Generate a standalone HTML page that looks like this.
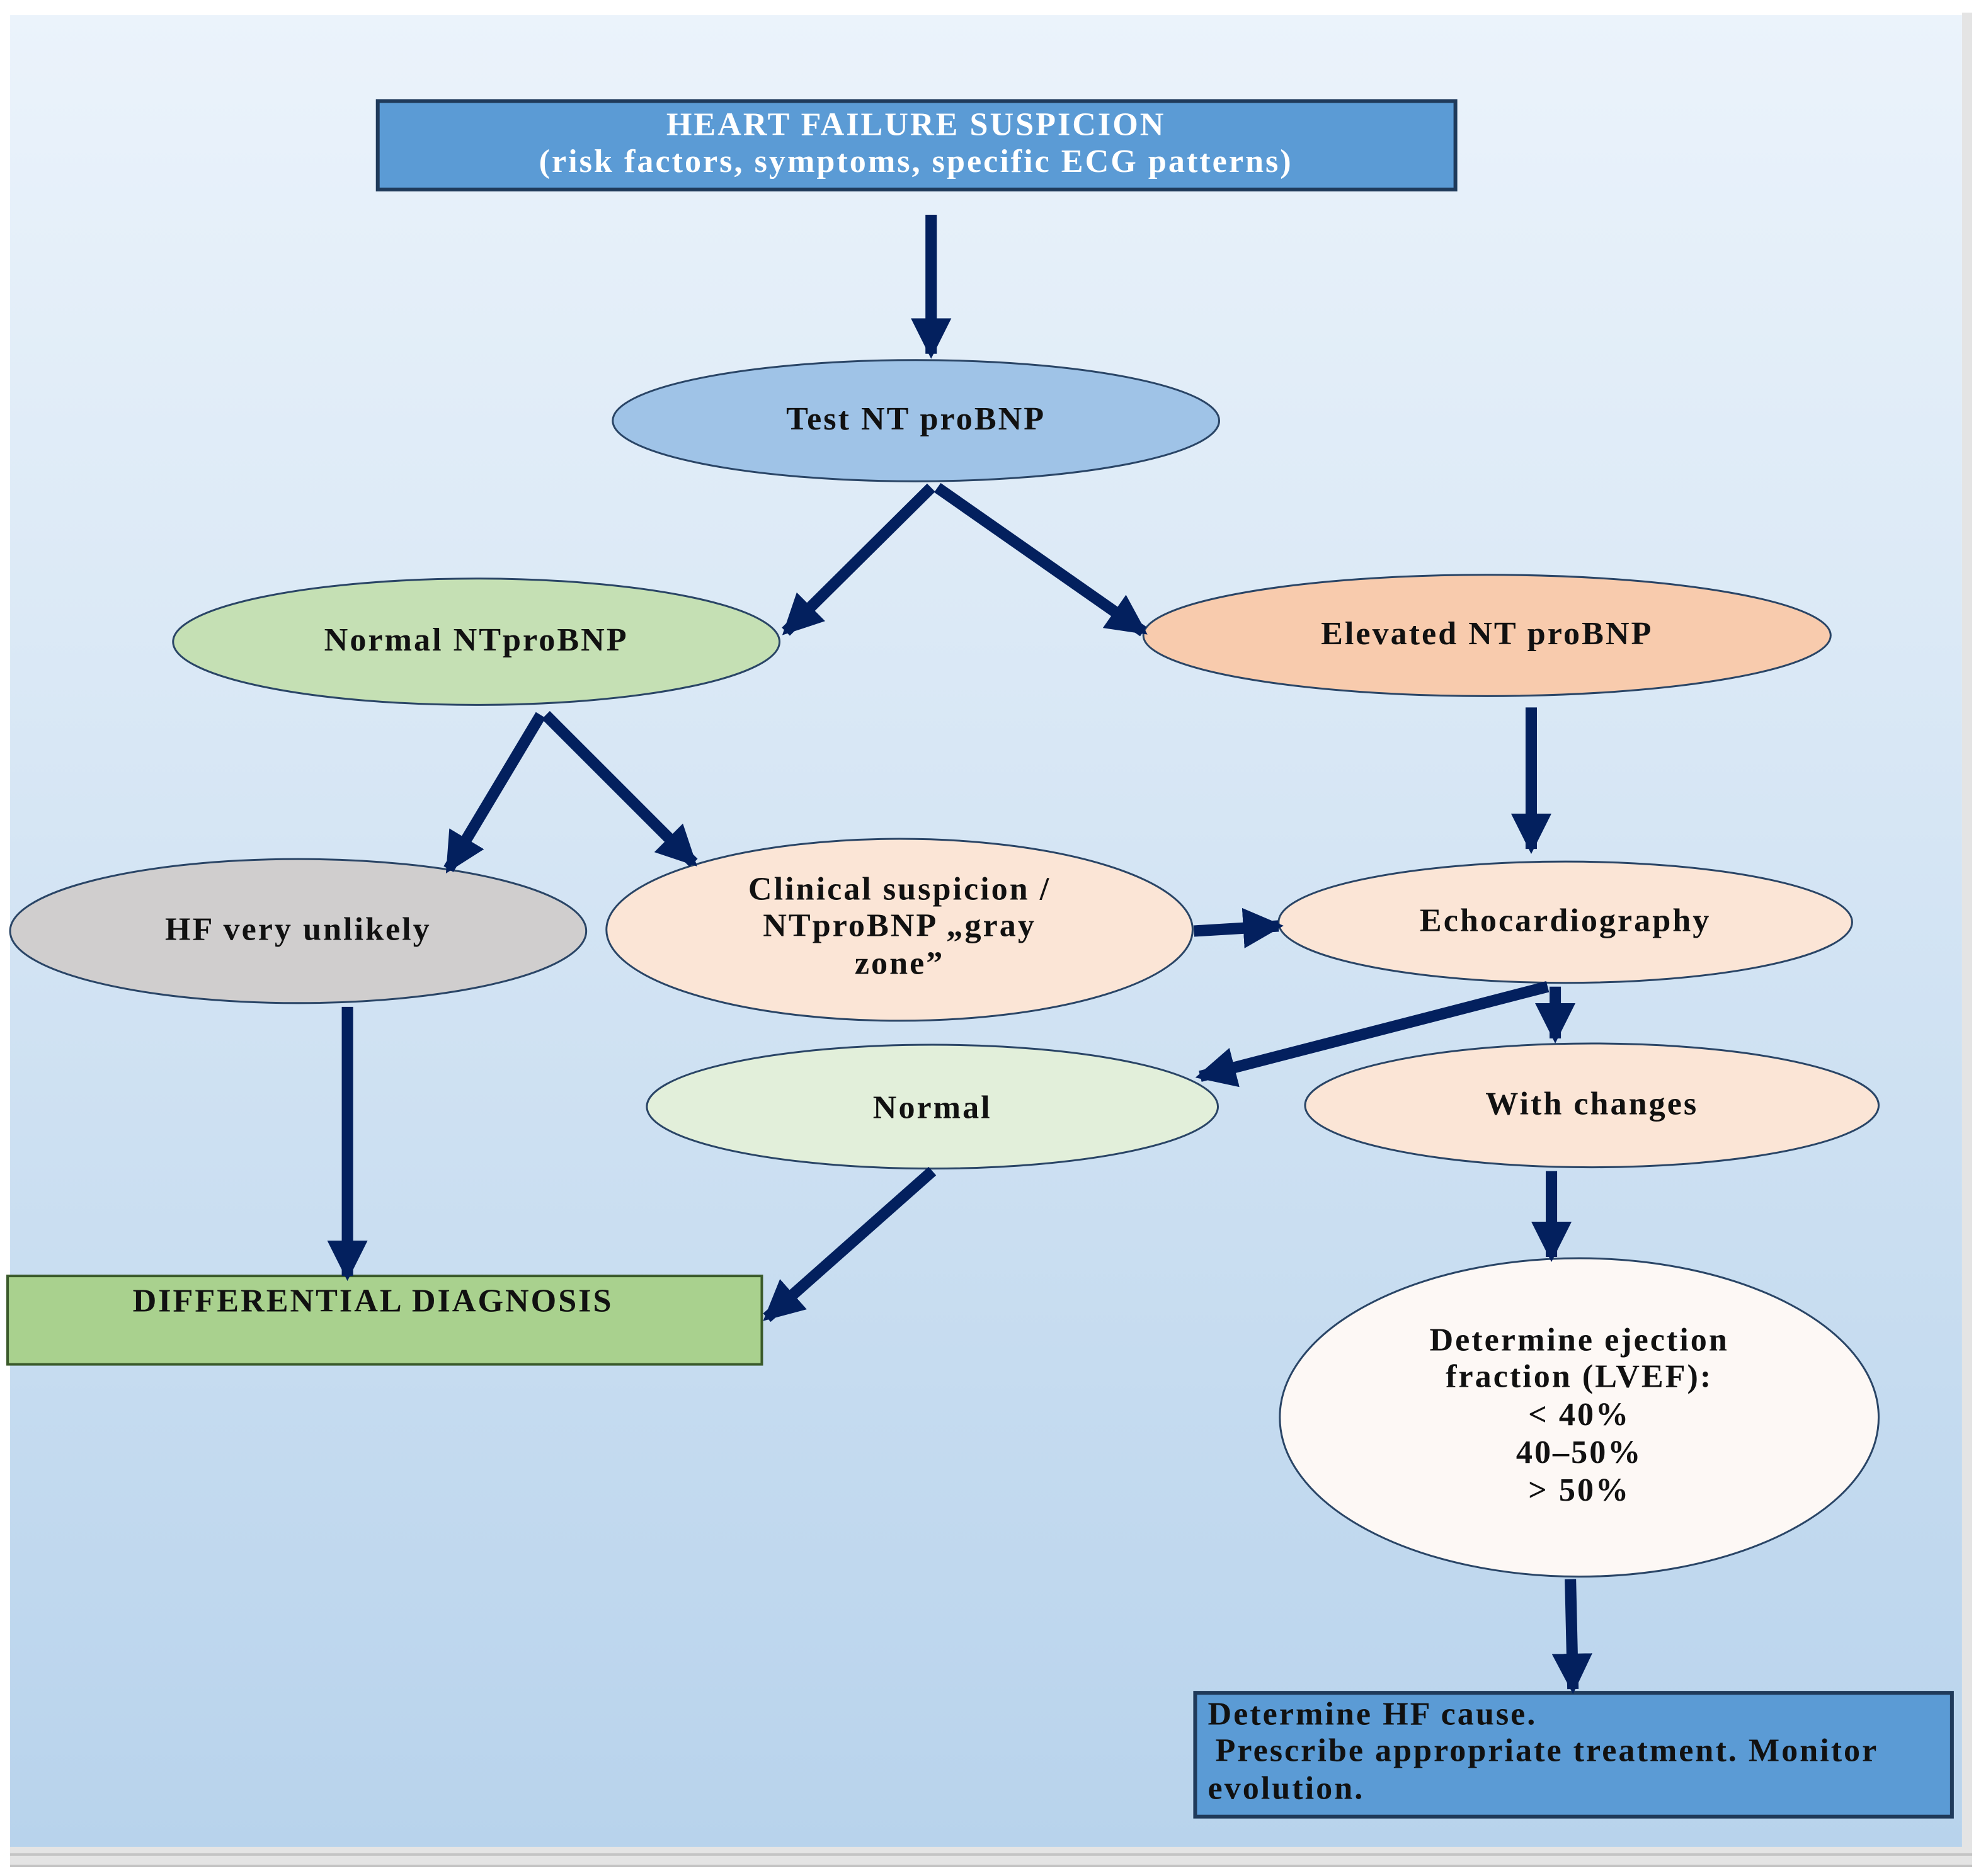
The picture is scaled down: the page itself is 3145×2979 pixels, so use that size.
<!DOCTYPE html>
<html><head><meta charset="utf-8"><style>
html,body{margin:0;padding:0;background:#fff;}
svg{display:block;}
text{font-family:"Liberation Serif",serif;font-weight:bold;letter-spacing:1.5px;}
</style></head><body>
<svg width="3145" height="2979" viewBox="0 0 1568 1485" preserveAspectRatio="none" xmlns="http://www.w3.org/2000/svg">
<defs>
<linearGradient id="bg" x1="0" y1="0" x2="0" y2="1">
<stop offset="0" stop-color="#ebf3fb"/>
<stop offset="0.4" stop-color="#d8e7f5"/>
<stop offset="1" stop-color="#b8d3ec"/>
</linearGradient>
<marker id="ah" markerUnits="userSpaceOnUse" markerWidth="36" markerHeight="36" refX="28" refY="16" orient="auto">
<path d="M0,0 L32,16 L0,32 z" fill="#03205e"/>
</marker>
</defs>
<rect x="0" y="0" width="1568" height="1485" fill="#fff"/>
<rect x="1553" y="10" width="8" height="1460" fill="#e4e4e4"/>
<rect x="8" y="1460" width="1553" height="18" fill="#e4e4e4"/>
<line x1="8" y1="1468" x2="1561" y2="1468" stroke="#c4c4c4" stroke-width="2"/>
<line x1="8" y1="1477" x2="1561" y2="1477" stroke="#c4c4c4" stroke-width="2"/>
<rect x="8" y="12" width="1545" height="1450" fill="url(#bg)"/>

<g stroke="#2a4566" stroke-width="1.5">
<rect x="299" y="80" width="853" height="70" fill="#5b9bd5" stroke="#1f3a5a" stroke-width="3"/>
<ellipse cx="725" cy="333" rx="240" ry="48" fill="#9fc3e7"/>
<ellipse cx="377" cy="508" rx="240" ry="50" fill="#c5e0b4"/>
<ellipse cx="1177" cy="503" rx="272" ry="48" fill="#f8cbad"/>
<ellipse cx="236" cy="737" rx="228" ry="57" fill="#d0cece"/>
<ellipse cx="712" cy="736" rx="232" ry="72" fill="#fbe5d6"/>
<ellipse cx="1239" cy="730" rx="227" ry="48" fill="#fbe5d6"/>
<ellipse cx="738" cy="876" rx="226" ry="49" fill="#e2efda"/>
<ellipse cx="1260" cy="875" rx="227" ry="49" fill="#fbe5d6"/>
<ellipse cx="1250" cy="1122" rx="237" ry="126" fill="#fdf8f5"/>
<rect x="6" y="1010" width="597" height="70" fill="#a9d18e" stroke="#3a5a2a" stroke-width="2"/>
<rect x="946" y="1340" width="599" height="98" fill="#5b9bd5" stroke="#1f3a5a" stroke-width="3"/>
</g>

<g stroke="#03205e" stroke-width="9" fill="none" marker-end="url(#ah)">
<line x1="737" y1="170" x2="737" y2="280"/>
<line x1="737" y1="386" x2="622" y2="500"/>
<line x1="742" y1="386" x2="905" y2="500"/>
<line x1="1212" y1="560" x2="1212" y2="672"/>
<line x1="428" y1="566" x2="355" y2="688"/>
<line x1="432" y1="566" x2="549" y2="683"/>
<line x1="945" y1="737" x2="1012" y2="733"/>
<line x1="1225" y1="781" x2="950" y2="852"/>
<line x1="1231" y1="781" x2="1231" y2="822"/>
<line x1="275" y1="797" x2="275" y2="1010"/>
<line x1="738" y1="927" x2="607" y2="1043"/>
<line x1="1228" y1="927" x2="1228" y2="995"/>
<line x1="1243" y1="1250" x2="1245" y2="1337"/>
</g>

<g font-size="26" text-anchor="middle" fill="#111">
<text x="725" y="107" fill="#fff">HEART FAILURE SUSPICION</text>
<text x="725" y="136" fill="#fff">(risk factors, symptoms, specific ECG patterns)</text>
<text x="725" y="340">Test NT proBNP</text>
<text x="377" y="515">Normal NTproBNP</text>
<text x="1177" y="510">Elevated NT proBNP</text>
<text x="236" y="744">HF very unlikely</text>
<text x="712" y="712">Clinical suspicion /</text>
<text x="712" y="741">NTproBNP „gray</text>
<text x="712" y="771">zone”</text>
<text x="1239" y="737">Echocardiography</text>
<text x="738" y="885">Normal</text>
<text x="1260" y="882">With changes</text>
<text x="1250" y="1069">Determine ejection</text>
<text x="1250" y="1098">fraction (LVEF):</text>
<text x="1250" y="1128">&lt; 40%</text>
<text x="1250" y="1158">40–50%</text>
<text x="1250" y="1188">&gt; 50%</text>
</g>
<g font-size="26" fill="#111">
<text x="105" y="1038">DIFFERENTIAL DIAGNOSIS</text>
<text x="956" y="1365">Determine HF cause.</text>
<text x="962" y="1394">Prescribe appropriate treatment. Monitor</text>
<text x="956" y="1424">evolution.</text>
</g>
</svg>
</body></html>
